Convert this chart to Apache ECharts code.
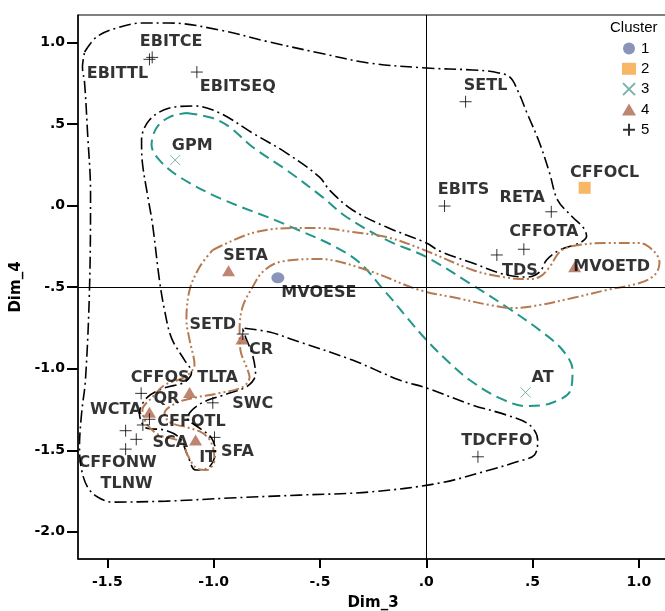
<!DOCTYPE html>
<html>
<head>
<meta charset="utf-8">
<script src="https://cdn.jsdelivr.net/npm/echarts@6/dist/echarts.min.js"></script>
<style>html,body{margin:0;padding:0;background:#fff}#c{width:665px;height:611px}</style>
</head>
<body>
<div id="c"></div>
<script>
// ---- data ----
const xTicks = [-1.5, -1, -0.5, 0, 0.5, 1];
const yTicks = [-2, -1.5, -1, -0.5, 0, 0.5, 1];
const refX = 0;
const refY = -0.5;
const clusterNames = ['1', '2', '3', '4', '5'];
const cluster1 = [['MVOESE', -0.698, -0.442]];
const cluster2 = [['CFFOCL', 0.745, 0.110]];
const cluster3 = [['GPM', -1.181, 0.280], ['AT', 0.467, -1.145]];
const cluster4 = [
  ['SETA', -0.930, -0.399], ['MVOETD', 0.698, -0.374], ['CR', -0.867, -0.818],
  ['TLTA', -1.113, -1.145], ['QR', -1.302, -1.267], ['IT', -1.085, -1.437]
];
const cluster5 = [
  ['EBITCE', -1.289, 0.910], ['EBITTL', -1.302, 0.898], ['EBITSEQ', -1.079, 0.820],
  ['SETL', 0.185, 0.638], ['EBITS', 0.086, -0.002], ['RETA', 0.588, -0.037],
  ['CFFOTA', 0.459, -0.267], ['TDS', 0.332, -0.302], ['SETD', -0.863, -0.787],
  ['TDCFFO', 0.243, -1.540], ['CFFOS', -1.341, -1.151], ['SWC', -1.004, -1.209],
  ['SFA', -0.996, -1.421], ['CFFOTL', -1.302, -1.310], ['WCTA', -1.333, -1.345],
  ['TLNW', -1.414, -1.380], ['SCA', -1.364, -1.433], ['CFFONW', -1.414, -1.493]
];
// hand-drawn cluster outlines (data units)
const outline5 = [
  [-1.607,0.943],[-1.551,1.035],[-1.457,1.090],[-1.335,1.121],[-1.208,1.121],[-0.972,1.078],
  [-0.737,1.004],[-0.502,0.937],[-0.267,0.875],[0.001,0.845],[0.218,0.833],[0.321,0.820],
  [0.392,0.790],[0.429,0.710],[0.472,0.575],[0.533,0.385],[0.580,0.201],[0.618,0.035],
  [0.688,-0.069],[0.740,-0.137],[0.754,-0.186],[0.721,-0.229],[0.627,-0.272],[0.566,-0.333],
  [0.533,-0.407],[0.477,-0.437],[0.378,-0.425],[0.218,-0.352],[0.063,-0.278],[0.001,-0.229],
  [-0.187,-0.131],[-0.347,-0.026],[-0.455,0.096],[-0.502,0.176],[-0.657,0.323],[-0.817,0.446],
  [-0.972,0.569],[-1.090,0.612],[-1.208,0.599],[-1.302,0.526],[-1.339,0.403],[-1.335,0.262],
  [-1.311,0.066],[-1.287,-0.118],[-1.255,-0.456],[-1.231,-0.640],[-1.198,-0.812],[-1.137,-0.947],
  [-1.104,-1.020],[-1.137,-1.082],[-1.231,-1.118],[-1.311,-1.174],[-1.349,-1.272],[-1.316,-1.364],
  [-1.231,-1.376],[-1.160,-1.425],[-1.123,-1.529],[-1.085,-1.621],[-1.033,-1.615],[-0.991,-1.511],
  [-1.010,-1.425],[-1.066,-1.364],[-1.123,-1.302],[-1.066,-1.217],[-0.939,-1.155],[-0.841,-1.106],
  [-0.803,-1.033],[-0.817,-0.916],[-0.850,-0.806],[-0.864,-0.750],[-0.737,-0.775],[-0.596,-0.836],
  [-0.347,-0.947],[-0.126,-1.069],[0.001,-1.118],[0.218,-1.223],[0.378,-1.284],[0.486,-1.345],
  [0.524,-1.437],[0.509,-1.529],[0.439,-1.566],[0.298,-1.621],[0.063,-1.701],[-0.267,-1.756],
  [-0.596,-1.775],[-0.925,-1.793],[-1.222,-1.812],[-1.476,-1.818],[-1.546,-1.787],[-1.593,-1.726],
  [-1.621,-1.621],[-1.631,-1.480],[-1.621,-1.272],[-1.603,-1.069],[-1.584,-0.517],[-1.579,0.078],
  [-1.593,0.446],[-1.607,0.753],[-1.617,0.851],[-1.607,0.943]
];
const outline3 = [
  [-1.128,0.569],[-1.005,0.538],[-0.925,0.483],[-0.817,0.360],[-0.657,0.219],[-0.488,0.053],
  [-0.375,-0.069],[-0.187,-0.210],[0.001,-0.315],[0.218,-0.487],[0.378,-0.621],[0.533,-0.763],
  [0.641,-0.885],[0.688,-1.008],[0.679,-1.131],[0.589,-1.210],[0.472,-1.229],[0.345,-1.180],
  [0.204,-1.069],[0.110,-0.965],[0.001,-0.824],[-0.093,-0.683],[-0.187,-0.536],[-0.347,-0.315],
  [-0.657,-0.118],[-0.972,0.047],[-1.160,0.176],[-1.255,0.280],[-1.292,0.372],[-1.269,0.477],
  [-1.208,0.544],[-1.128,0.569]
];
const outline4 = [
  [-1.005,-0.272],[-0.817,-0.167],[-0.629,-0.137],[-0.502,-0.137],[-0.347,-0.161],[-0.187,-0.192],
  [-0.032,-0.260],[0.218,-0.394],[0.359,-0.437],[0.472,-0.450],[0.533,-0.437],[0.580,-0.376],
  [0.627,-0.284],[0.688,-0.247],[0.848,-0.229],[1.003,-0.229],[1.074,-0.284],[1.097,-0.352],
  [1.074,-0.425],[1.003,-0.474],[0.848,-0.517],[0.688,-0.566],[0.533,-0.609],[0.406,-0.628],
  [0.298,-0.609],[0.143,-0.566],[-0.032,-0.517],[-0.281,-0.394],[-0.502,-0.327],[-0.690,-0.345],
  [-0.770,-0.407],[-0.817,-0.499],[-0.864,-0.621],[-0.878,-0.763],[-0.874,-0.885],[-0.845,-0.990],
  [-0.831,-1.051],[-0.864,-1.112],[-0.972,-1.149],[-1.099,-1.180],[-1.175,-1.210],[-1.231,-1.272],
  [-1.208,-1.327],[-1.113,-1.364],[-1.052,-1.394],[-1.010,-1.456],[-0.996,-1.560],[-1.033,-1.621],
  [-1.081,-1.609],[-1.123,-1.529],[-1.151,-1.450],[-1.255,-1.407],[-1.311,-1.345],[-1.335,-1.253],
  [-1.287,-1.174],[-1.231,-1.100],[-1.137,-1.051],[-1.090,-0.977],[-1.113,-0.824],[-1.128,-0.701],
  [-1.113,-0.517],[-1.066,-0.376],[-1.005,-0.272]
];

// ---- styles ----
const labelOffsets = {
  MVOESE:[41,15], CFFOCL:[20,-15], GPM:[17,-14], AT:[17,-15], SETA:[17,-15], MVOETD:[37,0],
  CR:[19,11], TLTA:[28,-15], QR:[17,-13], IT:[12,18], EBITCE:[19,-16], EBITTL:[-32,15],
  EBITSEQ:[41,15], SETL:[20,-16], EBITS:[19,-16], RETA:[-29,-14], CFFOTA:[20,-17], TDS:[23,16],
  SETD:[-30,-9], TDCFFO:[19,-16], CFFOS:[19,-16], SWC:[40,1], SFA:[23,14], CFFOTL:[42,3],
  WCTA:[-27,-15], CFFONW:[-8,14], TLNW:[1,53], SCA:[34,4]
};
const PLUS = 'path://M0,6H12M6,0V12';
const CROSS = 'path://M0,0L10,10M10,0L0,10';
const markerStyles = [
  {symbol:'circle', size:[13,11], item:{color:'#6C79A6'}},
  {symbol:'rect', size:[12,12], item:{color:'#F5A53F'}},
  {symbol:CROSS, size:[10,10], item:{color:'rgba(0,0,0,0)', borderColor:'#5A9E96', borderWidth:1}},
  {symbol:'triangle', size:[13,11], item:{color:'#AE6650'}},
  {symbol:PLUS, size:[12,12], item:{color:'rgba(0,0,0,0)', borderColor:'#000', borderWidth:1}}
];
const labelFont = {fontFamily:'DejaVu Sans', fontWeight:'bold', fontSize:16, color:'#000'};
const fmt = v => v.toFixed(1).replace(/^(-?)0\./, '$1.');

const clusters = [cluster1, cluster2, cluster3, cluster4, cluster5];
const scatterSeries = clusters.map((pts, i) => ({
  name: clusterNames[i],
  type: 'scatter',
  z: 5,
  symbol: markerStyles[i].symbol,
  symbolSize: markerStyles[i].size,
  itemStyle: markerStyles[i].item,
  data: pts.map(p => ({
    name: p[0], value: [p[1], p[2]],
    label: {offset: labelOffsets[p[0]] || [0, -15]}
  })),
  label: Object.assign({show:true, position:'inside', formatter: '{b}', align:'center', verticalAlign:'middle'}, labelFont),
  emphasis: {disabled: true}
}));

const outlineSeries = [
  {data: outline5, color:'#000', type:[12,4,2,4], width:1.6},
  {data: outline3, color:'#23968A', type:[11,6], width:2},
  {data: outline4, color:'#B57A52', type:[11,3,2,3,2,3], width:2}
].map(o => ({
  type:'line', data:o.data, smooth:0.35, symbol:'none', silent:true, z:2,
  lineStyle:{color:o.color, width:o.width, type:o.type}, emphasis:{disabled:true}
}));

const refSeries = {
  type:'line', data:[], silent:true, z:3,
  markLine: {
    silent:true, symbol:['none','none'], label:{show:false},
    lineStyle:{color:'#000', width:1, type:'solid'},
    emphasis:{disabled:true},
    data:[{xAxis:refX}, {yAxis:refY}]
  }
};

const chart = echarts.init(document.getElementById('c'), null, {renderer:'canvas'});
chart.setOption({
  animation:false,
  backgroundColor:'#fff',
  grid:{left:78, width:590, top:15, height:544, show:true, borderColor:'#000', borderWidth:1,
        containLabel:false, outerBoundsMode:'none'},
  xAxis:{
    type:'value', min:-1.638, max:1.137,
    name:'Dim_3', nameLocation:'middle', nameGap:37,
    nameTextStyle:{fontFamily:'DejaVu Sans', fontWeight:'bold', fontSize:15, color:'#000'},
    axisLine:{show:true, onZero:false, lineStyle:{color:'#000', width:1.5}},
    axisTick:{show:true, customValues:xTicks, length:9, lineStyle:{color:'#000', width:2}},
    axisLabel:{customValues:xTicks, formatter:fmt, margin:16, fontFamily:'DejaVu Sans', fontWeight:'bold', fontSize:14, color:'#000'},
    splitLine:{show:false}
  },
  yAxis:{
    type:'value', min:-2.167, max:1.170,
    name:'Dim_4', nameLocation:'middle', nameGap:49, nameRotate:90,
    nameTextStyle:{fontFamily:'DejaVu Sans', fontWeight:'bold', fontSize:15, color:'#000'},
    axisLine:{show:true, onZero:false, lineStyle:{color:'#000', width:1.5}},
    axisTick:{show:true, customValues:yTicks, length:11, lineStyle:{color:'#000', width:2}},
    axisLabel:{customValues:yTicks, formatter:fmt, margin:13, fontFamily:'DejaVu Sans', fontWeight:'bold', fontSize:14, color:'#000'},
    splitLine:{show:false}
  },
  legend:{
    data: clusterNames, orient:'vertical', left:617, top:36, itemWidth:14, itemHeight:12, itemGap:5.3,
    textStyle:{fontFamily:'Liberation Sans', fontSize:15, color:'#000'}, selectedMode:false
  },
  graphic:[{type:'text', left:610, top:20, style:{text:'Cluster', fontFamily:'Liberation Sans', fontSize:15, fill:'#000'}}],
  series: outlineSeries.concat([refSeries]).concat(scatterSeries)
});
</script>
</body>
</html>
